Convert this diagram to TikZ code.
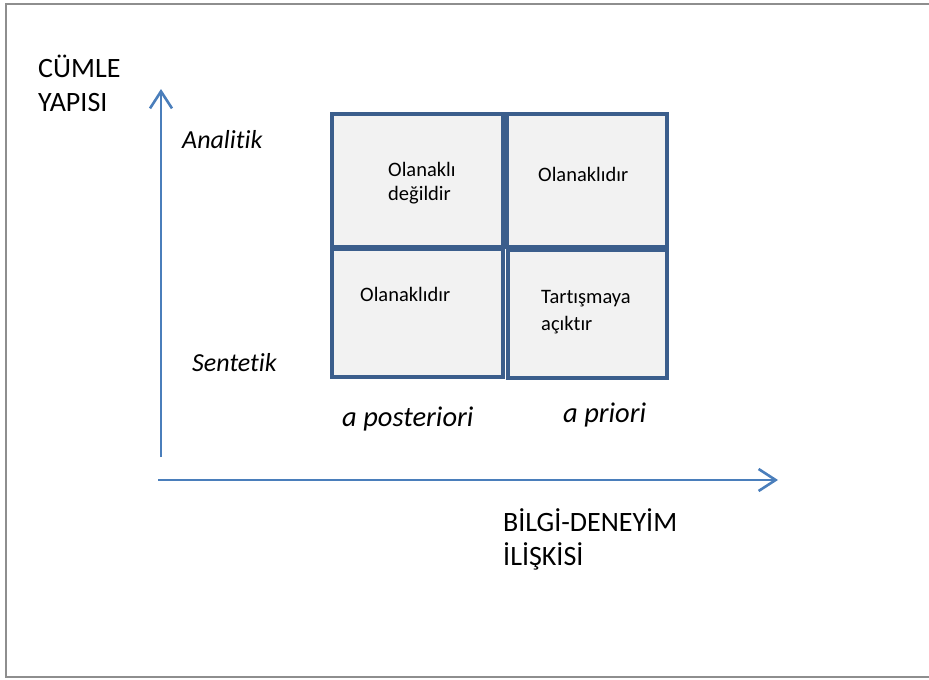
\documentclass[tikz,border=0pt]{standalone}
\usepackage{fontspec}
\setmainfont{Carlito}[Ligatures={NoCommon}]
\usetikzlibrary{arrows.meta}
\definecolor{boxblue}{HTML}{3B5E8C}
\definecolor{boxfill}{HTML}{F2F2F2}
\definecolor{axisblue}{HTML}{4A7EBB}
\definecolor{framegray}{HTML}{8E8E8E}
\begin{document}
\begin{tikzpicture}[x=1pt,y=-1pt,
  cell/.style={draw=boxblue, fill=boxfill, line width=4pt, inner sep=0pt, outer sep=0pt},
  axis/.style={draw=axisblue, line width=2.6pt, -{Straight Barb[length=17pt,width=22pt]}},
  lbl/.style={inner sep=0pt, anchor=base west, align=left},
  big/.style={font=\fontsize{28}{34}\selectfont},
  ital/.style={font=\fontsize{26}{32}\selectfont\itshape},
  italbig/.style={font=\fontsize{28.5}{34}\selectfont\itshape},
  celltext/.style={font=\fontsize{20.5}{24}\selectfont}]
\useasboundingbox (0,0) rectangle (929,680);
\clip (0,0) rectangle (929,680);
\draw[framegray, line width=2pt] (6,4) rectangle (940,677);
% cells
\node[cell, minimum width=171pt, minimum height=133pt] (tl) at (417.5,180.5) {};
\node[cell, minimum width=160pt, minimum height=133pt] (tr) at (587,180.5) {};
\node[cell, minimum width=171pt, minimum height=128pt] (bl) at (417.5,313) {};
\node[cell, minimum width=159pt, minimum height=128pt] (br) at (587.5,314) {};
% cell texts (base = last line)
\node[lbl, celltext] (tlt) at (388,200) {Olanaklı\\değildir};
\node[lbl, celltext] (trt) at (538,181) {Olanaklıdır};
\node[lbl, celltext] (blt) at (360,301) {Olanaklıdır};
\node[lbl, celltext, font=\fontsize{20.5}{27}\selectfont] (brt) at (541,330) {Tartışmaya\\açıktır};
% axes
\coordinate (yb) at (161,457);
\coordinate (yt) at (161,89);
\coordinate (xl) at (158,480);
\coordinate (xr) at (778,480);
\draw[axis] (yb) -- (yt);
\draw[axis] (xl) -- (xr);
% labels
\node[lbl, big] (cumle) at (38,111) {CÜMLE\\YAPISI};
\node[lbl, ital] (analitik) at (182,148) {Analitik};
\node[lbl, ital] (sentetik) at (192,371) {Sentetik};
\node[lbl, italbig] (apost) at (342,426) {a posteriori};
\node[lbl, italbig] (apri) at (563,422) {a priori};
\node[lbl, big] (bilgi) at (503,565) {BİLGİ-DENEYİM\\İLİŞKİSİ};
\end{tikzpicture}
\end{document}
